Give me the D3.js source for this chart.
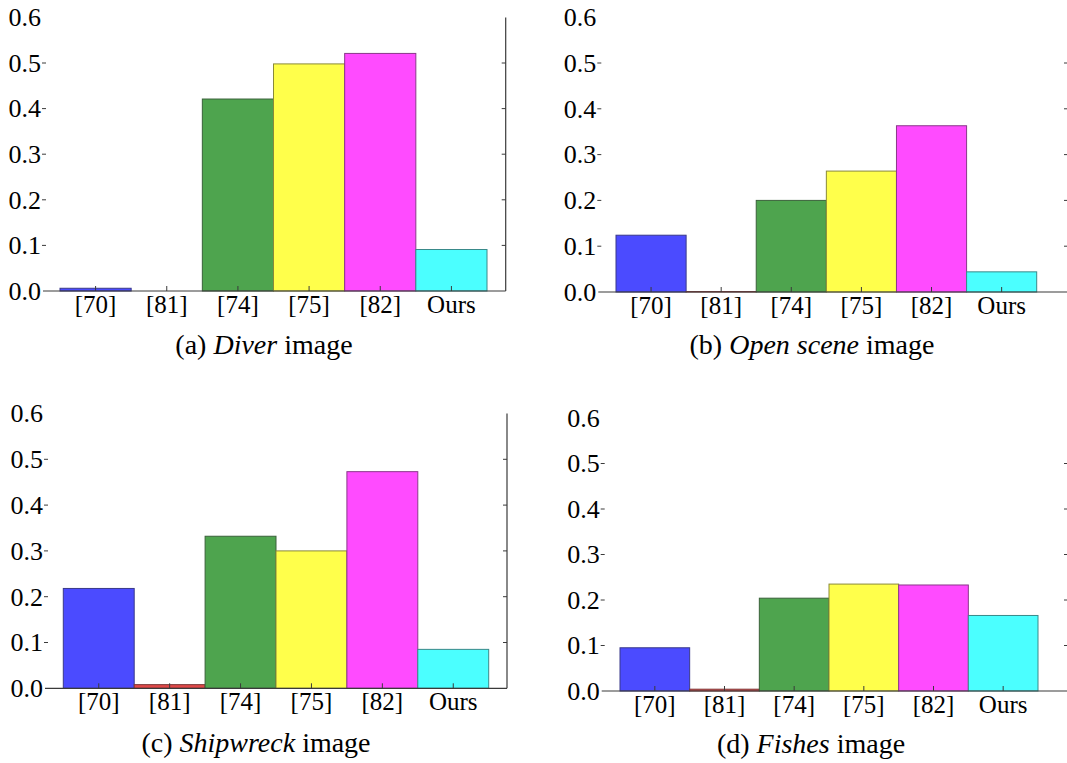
<!DOCTYPE html>
<html>
<head>
<meta charset="utf-8">
<script src="https://cdn.jsdelivr.net/npm/d3@7"></script>
<style>
  body { margin: 0; background: #fff; }
  svg { display: block; }
  text { font-family: "Liberation Serif", "Times New Roman", serif; fill: #000; }
</style>
</head>
<body>
<svg id="chart" width="1067" height="763"></svg>
<script>
// data
const categories = ["[70]", "[81]", "[74]", "[75]", "[82]", "Ours"];
const diverValues = [0.006, 0, 0.421, 0.498, 0.521, 0.091];
const openSceneValues = [0.124, 0.001, 0.200, 0.264, 0.363, 0.044];
const shipwreckValues = [0.218, 0.008, 0.332, 0.300, 0.473, 0.085];
const fishesValues = [0.095, 0.004, 0.204, 0.235, 0.233, 0.166];
const yTicks = [0, 0.1, 0.2, 0.3, 0.4, 0.5, 0.6];
const captionTags = ["(a)", "(b)", "(c)", "(d)"];
const captionNames = ["Diver", "Open scene", "Shipwreck", "Fishes"];

const barColors = ["#4b4bff", "#e04848", "#4ea44e", "#ffff4b", "#ff4bff", "#4bffff"];

// panel frames (pixel layout)
const panels = [
  { values: diverValues, left: 43, right: 505.7, zero: 291, top: 17.4, b0: 60, b1: 487, cx: 264, cy: 354 },
  { values: openSceneValues, left: 598.3, right: 1068, zero: 292, top: 17.2, b0: 616, b1: 1036.7, cx: 812, cy: 354 },
  { values: shipwreckValues, left: 45, right: 507, zero: 688.3, top: 413.5, b0: 63.3, b1: 488.7, cx: 256, cy: 752 },
  { values: fishesValues, left: 601.7, right: 1068, zero: 691, top: 418, b0: 620, b1: 1038, cx: 811, cy: 753 }
];

const svg = d3.select("#chart");
const axisColor = "#3a3a3a";

panels.forEach(function (p, i) {
  const g = svg.append("g");

  const x = d3.scaleBand().domain(categories).range([p.b0, p.b1]).paddingInner(0).paddingOuter(0);
  const y = d3.scaleLinear().domain([0, 0.6]).range([p.zero, p.top]);

  // bars, outlined with a darkened version of their own colour
  g.selectAll("rect.bar")
    .data(p.values)
    .enter()
    .append("rect")
    .attr("class", "bar")
    .attr("x", (d, j) => x(categories[j]))
    .attr("width", x.bandwidth())
    .attr("y", d => y(d))
    .attr("height", d => p.zero - y(d))
    .attr("fill", (d, j) => barColors[j])
    .attr("stroke", (d, j) => d3.interpolateRgb(barColors[j], "#2a2a2a")(0.55))
    .attr("stroke-width", 1);

  // x axis line
  g.append("line")
    .attr("x1", p.left).attr("x2", p.right)
    .attr("y1", p.zero).attr("y2", p.zero)
    .attr("stroke", axisColor).attr("stroke-width", 1.2);

  // right axis line
  g.append("line")
    .attr("x1", p.right).attr("x2", p.right)
    .attr("y1", p.top).attr("y2", p.zero)
    .attr("stroke", axisColor).attr("stroke-width", 1.2);

  // x ticks pointing up at bar centres
  g.selectAll("line.xtick")
    .data(categories)
    .enter()
    .append("line")
    .attr("x1", d => x(d) + x.bandwidth() / 2)
    .attr("x2", d => x(d) + x.bandwidth() / 2)
    .attr("y1", p.zero).attr("y2", p.zero - 5)
    .attr("stroke", axisColor).attr("stroke-width", 1);

  g.selectAll("text.xlab")
    .data(categories)
    .enter()
    .append("text")
    .attr("x", d => x(d) + x.bandwidth() / 2)
    .attr("y", p.zero + 22)
    .attr("text-anchor", "middle")
    .style("font-size", "25px")
    .text(d => d);

  // y ticks: left (dash) and right (inward)
  const inner = yTicks.filter(t => t > 0 && t < 0.6);
  g.selectAll("line.ytickl")
    .data(inner)
    .enter()
    .append("line")
    .attr("x1", p.left - 1).attr("x2", p.left + 3)
    .attr("y1", d => y(d)).attr("y2", d => y(d))
    .attr("stroke", axisColor).attr("stroke-width", 1);

  g.selectAll("line.ytickr")
    .data(inner)
    .enter()
    .append("line")
    .attr("x1", p.right - 4).attr("x2", p.right)
    .attr("y1", d => y(d)).attr("y2", d => y(d))
    .attr("stroke", axisColor).attr("stroke-width", 1);

  g.selectAll("text.ylab")
    .data(yTicks)
    .enter()
    .append("text")
    .attr("x", p.left - 2)
    .attr("y", d => y(d))
    .attr("dy", "0.34em")
    .attr("text-anchor", "end")
    .style("font-size", "26px")
    .text(d => d3.format(".1f")(d));

  // caption
  const cap = g.append("text")
    .attr("x", p.cx).attr("y", p.cy)
    .attr("text-anchor", "middle")
    .style("font-size", "28px");
  cap.append("tspan").text(captionTags[i] + " ");
  cap.append("tspan").style("font-style", "italic").text(captionNames[i]);
  cap.append("tspan").text(" image");
});
</script>
</body>
</html>
